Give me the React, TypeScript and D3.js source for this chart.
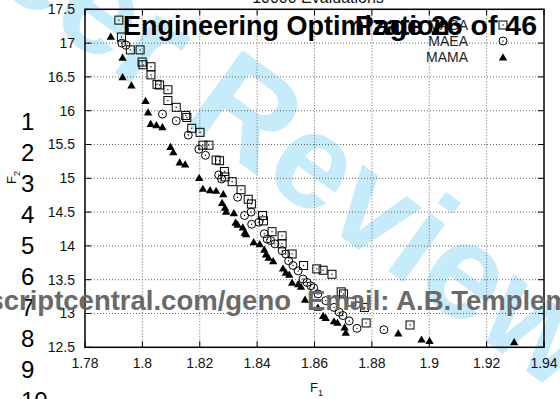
import React from "react";
import * as d3 from "d3";

// ---- data ----
const xTickValues = [1.78, 1.8, 1.82, 1.84, 1.86, 1.88, 1.9, 1.92, 1.94];
const xTickLabels = ["1.78", "1.8", "1.82", "1.84", "1.86", "1.88", "1.9", "1.92", "1.94"];
const yTickValues = [12.5, 13, 13.5, 14, 14.5, 15, 15.5, 16, 16.5, 17, 17.5];
const yTickLabels = ["12.5", "13", "13.5", "14", "14.5", "15", "15.5", "16", "16.5", "17", "17.5"];

const seriesNames = ["MASA", "MAEA", "MAMA"];

const squareF1 = [1.7918, 1.7927, 1.7958, 1.7992, 1.7999, 1.8002, 1.803, 1.803, 1.8051, 1.806, 1.8089, 1.8089, 1.8118, 1.8151, 1.8155, 1.8172, 1.8201, 1.8211, 1.8232, 1.8257, 1.8269, 1.8286, 1.8288, 1.8313, 1.8344, 1.8369, 1.838, 1.8419, 1.8422, 1.8452, 1.8487, 1.8487, 1.8522, 1.8562, 1.8608, 1.863, 1.8661, 1.8693, 1.8701, 1.873, 1.8774, 1.878, 1.8933];
const squareF2 = [17.34, 17.09, 16.9, 16.9, 16.72, 16.68, 16.65, 16.53, 16.39, 16.38, 16.31, 16.15, 16.05, 15.93, 15.9, 15.74, 15.68, 15.49, 15.49, 15.27, 15.26, 15.1, 15.02, 14.95, 14.83, 14.69, 14.62, 14.45, 14.37, 14.21, 14.15, 14.03, 13.88, 13.71, 13.66, 13.64, 13.58, 13.32, 13.29, 13.17, 13.09, 12.86, 12.83];

const circleF1 = [1.7928, 1.7943, 1.807, 1.8118, 1.816, 1.8197, 1.822, 1.8266, 1.8276, 1.8332, 1.8356, 1.8379, 1.8381, 1.8406, 1.8425, 1.8435, 1.8447, 1.8462, 1.8487, 1.85, 1.851, 1.8525, 1.8543, 1.856, 1.8574, 1.8587, 1.8597, 1.8612, 1.8639, 1.8668, 1.8686, 1.8699, 1.8721, 1.8748, 1.8842];
const circleF2 = [17.0, 16.97, 15.95, 15.85, 15.64, 15.43, 15.34, 15.05, 14.99, 14.72, 14.45, 14.5, 14.32, 14.35, 14.18, 14.1, 14.08, 14.03, 13.93, 13.88, 13.78, 13.71, 13.63, 13.51, 13.46, 13.41, 13.38, 13.29, 13.19, 13.09, 13.02, 12.97, 12.89, 12.78, 12.76];

const triF1 = [1.789, 1.7931, 1.7931, 1.7962, 1.8011, 1.802, 1.8029, 1.8049, 1.807, 1.8098, 1.8108, 1.813, 1.8149, 1.8198, 1.8211, 1.8236, 1.8257, 1.8282, 1.8278, 1.8288, 1.8292, 1.8319, 1.8325, 1.8332, 1.835, 1.8357, 1.8362, 1.8388, 1.8409, 1.8425, 1.8431, 1.844, 1.8456, 1.849, 1.85, 1.8512, 1.8522, 1.8543, 1.8553, 1.8567, 1.8612, 1.863, 1.8639, 1.8668, 1.868, 1.8705, 1.8709, 1.8892, 1.8973, 1.9001, 1.9296];
const triF2 = [17.1, 16.79, 16.5, 16.38, 16.15, 15.98, 15.81, 15.79, 15.76, 15.47, 15.39, 15.24, 15.21, 15.01, 14.85, 14.83, 14.82, 14.77, 14.64, 14.57, 14.51, 14.49, 14.35, 14.32, 14.28, 14.2, 14.18, 14.06, 14.03, 13.95, 13.88, 13.83, 13.78, 13.67, 13.61, 13.58, 13.46, 13.44, 13.4, 13.21, 13.09, 12.97, 12.94, 12.89, 12.87, 12.8, 12.72, 12.71, 12.62, 12.6, 12.58];

const lineNumbers = ["1", "2", "3", "4", "5", "6", "7", "8", "9", "10"];

const FONT = "'Liberation Sans', Arial, sans-serif";

export default function App() {
  const W = 560;
  const H = 399;
  const left = 85, right = 544, top = 9.3, bottom = 347.3;
  const x = d3.scaleLinear().domain([1.78, 1.94]).range([left, right]);
  const y = d3.scaleLinear().domain([12.5, 17.5]).range([bottom, top]);

  const tri = d3.symbol().type(d3.symbolTriangle).size(30)() as string;

  const squares = squareF1.map((v, i) => [x(v), y(squareF2[i])]);
  const circles = circleF1.map((v, i) => [x(v), y(circleF2[i])]);
  const tris = triF1.map((v, i) => [x(v), y(triF2[i])]);

  const tickLen = 6;

  // watermark placement
  const wmAngle = 36;
  const wmFont = 135;

  const Square = ({ cx, cy }: { cx: number; cy: number }) => (
    <g>
      <rect x={cx - 4} y={cy - 4} width={8} height={8} fill="none" stroke="#000" strokeWidth={1} />
      <rect x={cx - 0.6} y={cy - 0.6} width={1.2} height={1.2} fill="#000" />
    </g>
  );
  const Circle = ({ cx, cy }: { cx: number; cy: number }) => (
    <g>
      <circle cx={cx} cy={cy} r={4} fill="none" stroke="#000" strokeWidth={1} />
      <circle cx={cx} cy={cy} r={0.7} fill="#000" />
    </g>
  );

  return (
    <svg
      width={W}
      height={H}
      style={{ position: "absolute", left: 0, top: 0, background: "#fff" }}
      fontFamily={FONT}
    >
      <rect x={0} y={0} width={W} height={H} fill="#fff" />
      {/* watermark */}
      <text
        x={0}
        y={0}
        fontSize={wmFont}
        fontWeight="bold"
        fill="#c6ebfb"
        transform={`translate(-293,-224) rotate(${wmAngle})`}
      >
        For Peer Review
      </text>

      {/* grid */}
      {xTickValues.slice(1, -1).map((v) => (
        <line key={"gx" + v} x1={x(v)} x2={x(v)} y1={top} y2={bottom} stroke="#666" strokeWidth={1} strokeDasharray="1,2" />
      ))}
      {yTickValues.slice(1, -1).map((v) => (
        <line key={"gy" + v} x1={left} x2={right} y1={y(v)} y2={y(v)} stroke="#666" strokeWidth={1} strokeDasharray="1,2" />
      ))}

      {/* ticks */}
      {xTickValues.map((v) => (
        <g key={"tx" + v}>
          <line x1={x(v)} x2={x(v)} y1={bottom} y2={bottom - tickLen} stroke="#000" strokeWidth={1} />
          <line x1={x(v)} x2={x(v)} y1={top} y2={top + tickLen} stroke="#000" strokeWidth={1} />
        </g>
      ))}
      {yTickValues.map((v) => (
        <g key={"ty" + v}>
          <line x1={left} x2={left + tickLen} y1={y(v)} y2={y(v)} stroke="#000" strokeWidth={1} />
          <line x1={right} x2={right - tickLen} y1={y(v)} y2={y(v)} stroke="#000" strokeWidth={1} />
        </g>
      ))}

      {/* frame */}
      <rect x={left} y={top} width={right - left} height={bottom - top} fill="none" stroke="#000" strokeWidth={1.5} />

      {/* tick labels */}
      {xTickValues.map((v, i) => (
        <text key={"lx" + v} x={x(v)} y={368} fontSize={14} textAnchor="middle" fill="#111">
          {xTickLabels[i]}
        </text>
      ))}
      {yTickValues.map((v, i) => (
        <text key={"ly" + v} x={75} y={y(v)} dy="0.35em" fontSize={14} textAnchor="end" fill="#111">
          {yTickLabels[i]}
        </text>
      ))}

      {/* axis labels */}
      <text x={310} y={392} fontSize={13} fill="#111">
        F<tspan fontSize={9} dy={4}>1</tspan>
      </text>
      <text transform="translate(16,184) rotate(-90)" fontSize={13} fill="#111">
        F<tspan fontSize={9} dy={4}>2</tspan>
      </text>

      {/* title */}
      <text x={318} y={3} fontSize={16} textAnchor="middle" fill="#111">
        10000 Evaluations
      </text>

      {/* data */}
      {squares.map(([cx, cy], i) => (
        <Square key={"s" + i} cx={cx} cy={cy} />
      ))}
      {circles.map(([cx, cy], i) => (
        <Circle key={"c" + i} cx={cx} cy={cy} />
      ))}
      {tris.map(([cx, cy], i) => (
        <path key={"t" + i} d={tri} transform={`translate(${cx},${cy + 1})`} fill="#000" />
      ))}

      {/* legend */}
      {seriesNames.map((name, i) => (
        <text key={"lg" + name} x={468} y={25 + i * 16} dy="0.35em" fontSize={14} textAnchor="end" fill="#222">
          {name}
        </text>
      ))}
      <Square cx={503} cy={25} />
      <Circle cx={503} cy={41} />
      <path d={tri} transform={`translate(503,58)`} fill="#000" />

      {/* header overlay */}
      <text x={123} y={35} fontSize={27} fontWeight="bold" fill="#000">
        Engineering Optimization
      </text>
      <text x={537} y={35} fontSize={28.5} fontWeight="bold" fill="#000" textAnchor="end">
        Page 26 of 46
      </text>

      {/* line numbers */}
      {lineNumbers.map((n, i) => (
        <text key={"ln" + n} x={21} y={130 + i * 31} fontSize={24} fill="#000">
          {n}
        </text>
      ))}

      {/* footer url overlay */}
      <text x={291} y={310} fontSize={27.5} fontWeight="bold" fill="#6a6a6a" textAnchor="end">
        http://mc.manuscriptcentral.com/geno
      </text>
      <text x={307} y={310} fontSize={27.5} fontWeight="bold" fill="#6a6a6a">
        Email: A.B.Templeman@liverpool.ac.uk
      </text>
    </svg>
  );
}
